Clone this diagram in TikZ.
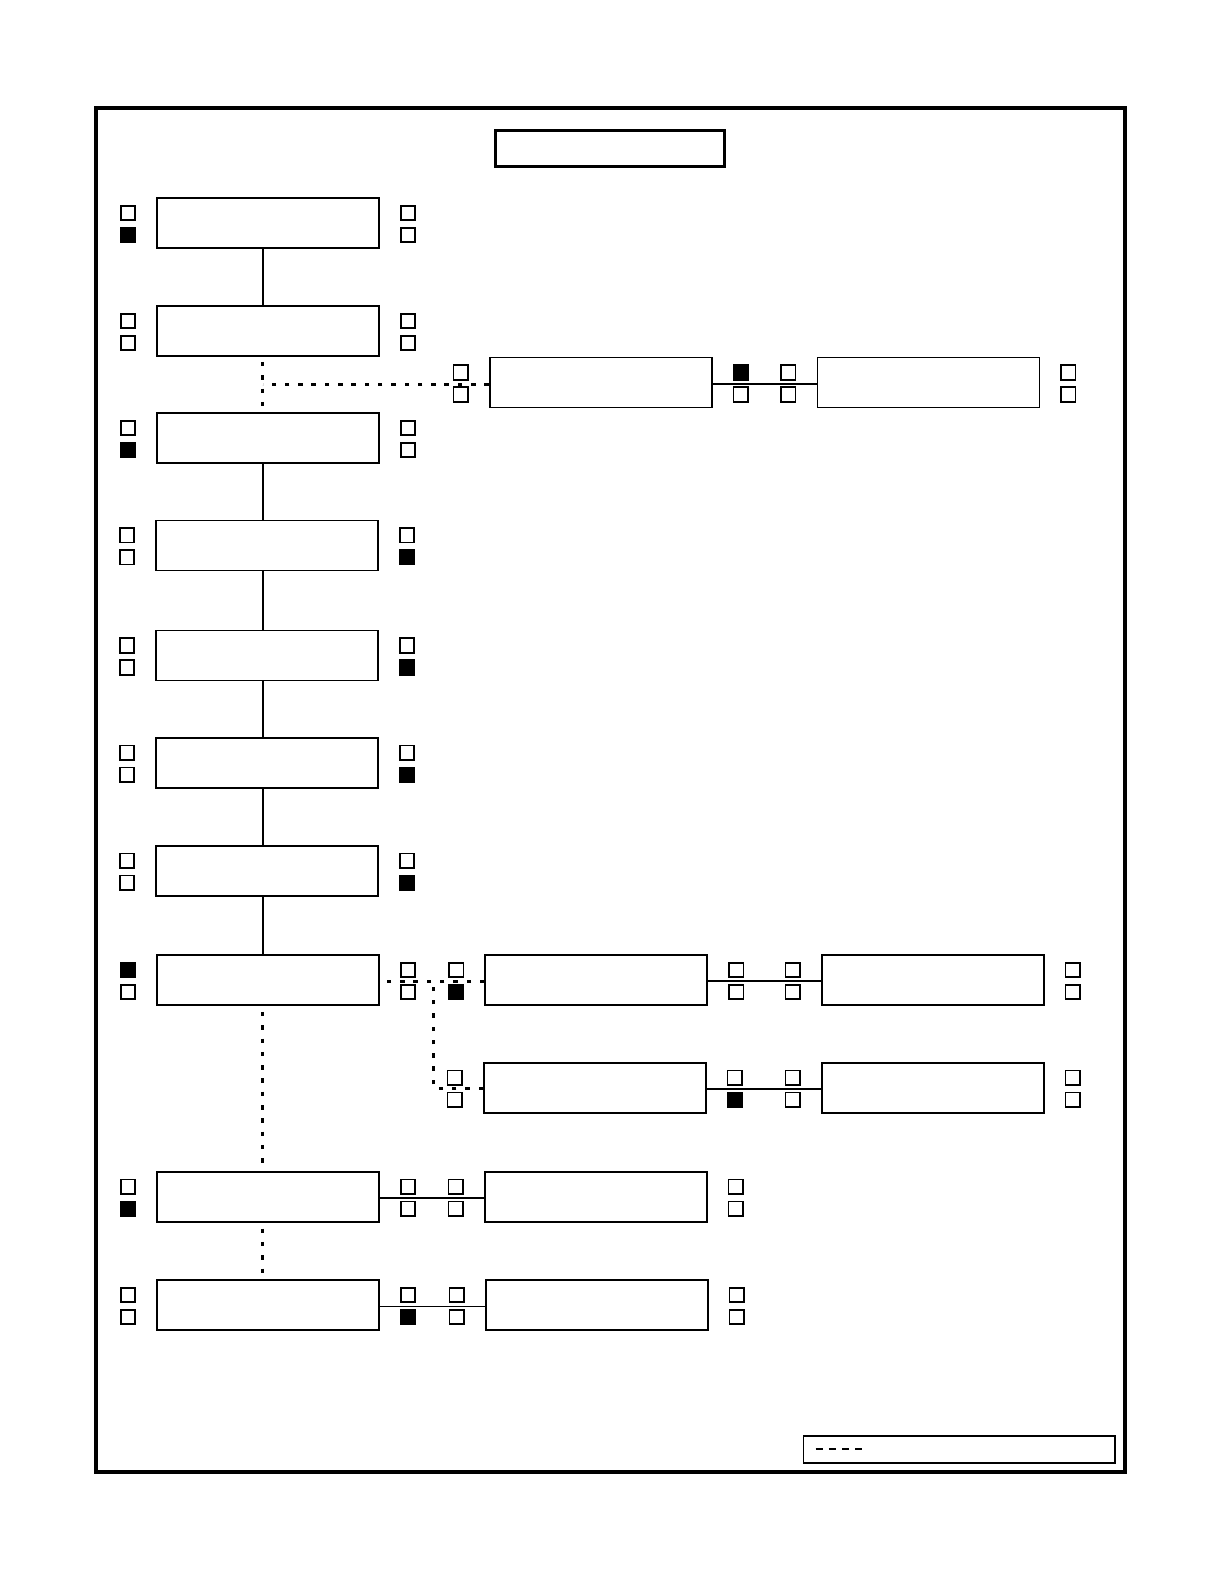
\documentclass[tikz,border=0pt]{standalone}
\usetikzlibrary{calc}
\tikzset{
  box/.style={draw, line width=1.8pt, minimum width=222pt, minimum height=50pt, inner sep=0pt},
  sqo/.style={draw, line width=1.6pt, minimum size=14.5pt, inner sep=0pt, fill=white},
  sqf/.style={sqo, fill=black},
  link/.style={line width=1.8pt},
  dotl/.style={line width=2.9pt, dash pattern=on 4.5pt off 8.8pt},
}
% #1 name, #2 cx, #3 cy, #4..#7 styles: left-top, left-bottom, right-top, right-bottom
\newcommand\blockrow[7]{%
  \node[box] (#1) at (#2,#3) {};
  \node[#4] (#1lt) at (#2-140,#3-10) {};
  \node[#5] (#1lb) at (#2-140,#3+12) {};
  \node[#6] (#1rt) at (#2+140,#3-10) {};
  \node[#7] (#1rb) at (#2+140,#3+12) {};
}
\begin{document}
\begin{tikzpicture}[x=1pt,y=-1pt]
\useasboundingbox (0,0) rectangle (1225,1585);
\node[draw, line width=3.2pt, minimum width=1029pt, minimum height=1364pt, inner sep=0pt] (frame) at (610.5,790) {};
\node[draw, line width=3pt, minimum width=229.5pt, minimum height=36pt, inner sep=0pt] (title) at (610,148.2) {};

% main column
\blockrow{r1}{268}{223}{sqo}{sqf}{sqo}{sqo}
\blockrow{r2}{268}{331}{sqo}{sqo}{sqo}{sqo}
\blockrow{r3}{268}{438}{sqo}{sqf}{sqo}{sqo}
\blockrow{r4}{267}{545.4}{sqo}{sqo}{sqo}{sqf}
\blockrow{r5}{267}{655.5}{sqo}{sqo}{sqo}{sqf}
\blockrow{r6}{267}{762.6}{sqo}{sqo}{sqo}{sqf}
\blockrow{r7}{267}{870.8}{sqo}{sqo}{sqo}{sqf}
\blockrow{r8}{268}{980}{sqf}{sqo}{sqo}{sqo}
\blockrow{r10}{268}{1196.7}{sqo}{sqf}{sqo}{sqo}
\blockrow{r11}{268}{1305}{sqo}{sqo}{sqo}{sqf}

% side branches
\blockrow{s2a}{600.7}{382.5}{sqo}{sqo}{sqf}{sqo}
\blockrow{s2b}{928.4}{382.5}{sqo}{sqo}{sqo}{sqo}
\blockrow{s8a}{596.2}{980}{sqo}{sqf}{sqo}{sqo}
\blockrow{s8b}{932.9}{980}{sqo}{sqo}{sqo}{sqo}
\blockrow{s9a}{594.9}{1087.7}{sqo}{sqo}{sqo}{sqf}
\blockrow{s9b}{932.9}{1087.7}{sqo}{sqo}{sqo}{sqo}
\blockrow{s10}{595.8}{1196.7}{sqo}{sqo}{sqo}{sqo}
\blockrow{s11}{596.8}{1305}{sqo}{sqo}{sqo}{sqo}

% vertical main connectors
\coordinate (vx) at (262.7,0);
\draw[link] (vx |- r1.south) -- (vx |- r2.north);
\draw[link] (vx |- r3.south) -- (vx |- r4.north);
\draw[link] (vx |- r4.south) -- (vx |- r5.north);
\draw[link] (vx |- r5.south) -- (vx |- r6.north);
\draw[link] (vx |- r6.south) -- (vx |- r7.north);
\draw[link] (vx |- r7.south) -- (vx |- r8.north);
\draw[dotl] ([yshift=-5pt]vx |- r2.south) -- (vx |- r3.north);
\draw[dotl] ([yshift=-6pt]vx |- r8.south) -- (vx |- r10.north);
\draw[dotl] ([yshift=-6pt]vx |- r10.south) -- (vx |- r11.north);

% branch at row 2
\coordinate (j1) at (262.7,384.5);
\draw[dotl] (j1 -| s2a.west) -- (j1);
\draw[link] ([yshift=-1.5pt]s2a.east) -- ([yshift=-1.5pt]s2b.west);

% branch at row 8
\coordinate (j2) at (433.3,981.5);
\draw[dotl] ([yshift=-1.5pt]s8a.west) -- ([xshift=4pt,yshift=-1.5pt]r8.east);
\draw[dotl, rounded corners=2pt] ([yshift=-1pt]s9a.west) -- ([yshift=-1pt]j2 |- s9a.west) -- (j2);
\draw[link] ([yshift=-1pt]s8a.east) -- ([yshift=-1pt]s8b.west);
\draw[link] ([yshift=-1.5pt]s9a.east) -- ([yshift=-1.5pt]s9b.west);

% rows 10 and 11
\draw[link] ([yshift=-1.5pt]r10.east) -- ([yshift=-1.5pt]s10.west);
\draw[link] ([yshift=-1.5pt]r11.east) -- ([yshift=-1.5pt]s11.west);

% legend
\node[draw, line width=1.7pt, minimum width=311.7pt, minimum height=27pt, inner sep=0pt] (leg) at (959.2,1449.2) {};
\coordinate (la) at ([xshift=13pt]leg.west);
\draw[line width=1.5pt, dash pattern=on 7pt off 6.3pt] (la) -- ++(52,0);
\end{tikzpicture}
\end{document}
